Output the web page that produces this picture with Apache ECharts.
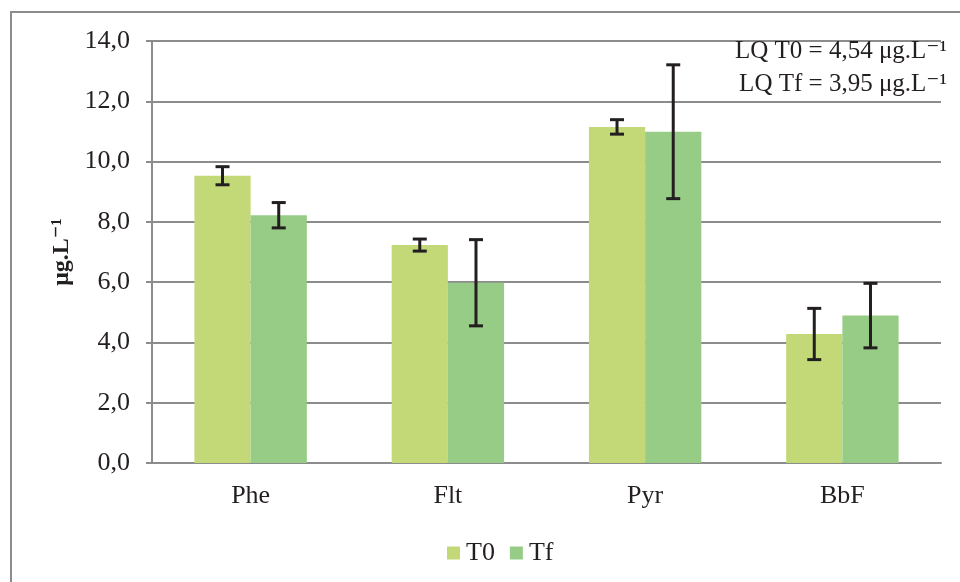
<!DOCTYPE html>
<html>
<head>
<meta charset="utf-8">
<script src="https://cdn.jsdelivr.net/npm/echarts@6/dist/echarts.min.js"></script>
<style>
  html, body { margin: 0; padding: 0; background: #fff; }
  #chart { width: 960px; height: 582px; }
</style>
</head>
<body>
<div id="chart"></div>
<script>
// 数据
const categories = ['Phe', 'Flt', 'Pyr', 'BbF']
const seriesNames = ['T0', 'Tf']
const t0Values = [9.53, 7.23, 11.15, 4.28]
const tfValues = [8.22, 5.98, 10.99, 4.89]
const t0Errors = [0.30, 0.20, 0.24, 0.85]
const tfErrors = [0.42, 1.43, 2.22, 1.07]
const noteLines = ['LQ T0 = 4,54 μg.L⁻¹', 'LQ Tf = 3,95 μg.L⁻¹']

const serif = '"Liberation Serif", "DejaVu Serif", serif'
const textColor = '#231f20'
const lineColor = '#8c8c8c'
const barCategoryGap = 0.43

// 误差线：custom series
const errorSeries = (values, errors, side) => ({
  type: 'custom',
  z: 10,
  silent: true,
  data: values.map((v, i) => [i, v - errors[i], v + errors[i]]),
  renderItem: (params, api) => {
    const band = api.size([1, 0])[0]
    const offset = side * band * (1 - barCategoryGap) / 4
    const low = api.coord([api.value(0), api.value(1)])
    const high = api.coord([api.value(0), api.value(2)])
    const x = low[0] + offset
    const cap = 7
    const style = { stroke: textColor, lineWidth: 3 }
    return {
      type: 'group',
      children: [
        { type: 'line', shape: { x1: x, y1: high[1], x2: x, y2: low[1] }, style },
        { type: 'line', shape: { x1: x - cap, y1: high[1], x2: x + cap, y2: high[1] }, style },
        { type: 'line', shape: { x1: x - cap, y1: low[1], x2: x + cap, y2: low[1] }, style }
      ]
    }
  }
})

const chart = echarts.init(document.getElementById('chart'))
chart.setOption({
  animation: false,
  textStyle: { fontFamily: serif, color: textColor },
  grid: { left: 152, right: 19, top: 41, bottom: 119 },
  legend: {
    data: seriesNames,
    left: 442,
    top: 535,
    itemWidth: 13,
    itemHeight: 13,
    itemGap: 15,
    icon: 'rect',
    textStyle: { fontFamily: serif, fontSize: 26, color: textColor, padding: [0, 0, 0, 1] }
  },
  xAxis: {
    type: 'category',
    data: categories,
    axisLine: { lineStyle: { color: lineColor, width: 2 } },
    axisTick: { length: 10, lineStyle: { color: lineColor, width: 2 } },
    axisLabel: { fontFamily: serif, fontSize: 26, color: textColor, margin: 20 }
  },
  yAxis: {
    type: 'value',
    min: 0,
    max: 14,
    interval: 2,
    name: 'μg.L⁻¹',
    nameLocation: 'middle',
    nameRotate: 90,
    nameGap: 76,
    nameTextStyle: { fontFamily: serif, fontSize: 24, fontWeight: 'bold', color: textColor },
    axisLine: { show: true, lineStyle: { color: lineColor, width: 2 } },
    axisTick: { show: true, length: 6, lineStyle: { color: lineColor, width: 2 } },
    splitLine: { lineStyle: { color: lineColor, width: 2 } },
    axisLabel: {
      fontFamily: serif, fontSize: 26, color: textColor, margin: 22,
      formatter: v => v.toFixed(1).replace('.', ',')
    }
  },
  series: [
    {
      name: 'T0', type: 'bar', data: t0Values,
      barGap: '0%', barCategoryGap: (barCategoryGap * 100) + '%',
      itemStyle: { color: '#c3d978' }
    },
    {
      name: 'Tf', type: 'bar', data: tfValues,
      barGap: '0%', barCategoryGap: (barCategoryGap * 100) + '%',
      itemStyle: { color: '#97cc87' }
    },
    errorSeries(t0Values, t0Errors, -1),
    errorSeries(tfValues, tfErrors, 1)
  ],
  graphic: [
    {
      type: 'rect', silent: true, z: -1,
      shape: { x: 11, y: 12, width: 1000, height: 1000 },
      style: { fill: 'none', stroke: lineColor, lineWidth: 2 }
    },
    ...noteLines.map((t, i) => ({
      type: 'text', right: 13, top: 39 + i * 33, z: 20,
      style: { text: t, font: '25px ' + serif, fill: textColor }
    }))
  ]
})
</script>
</body>
</html>
